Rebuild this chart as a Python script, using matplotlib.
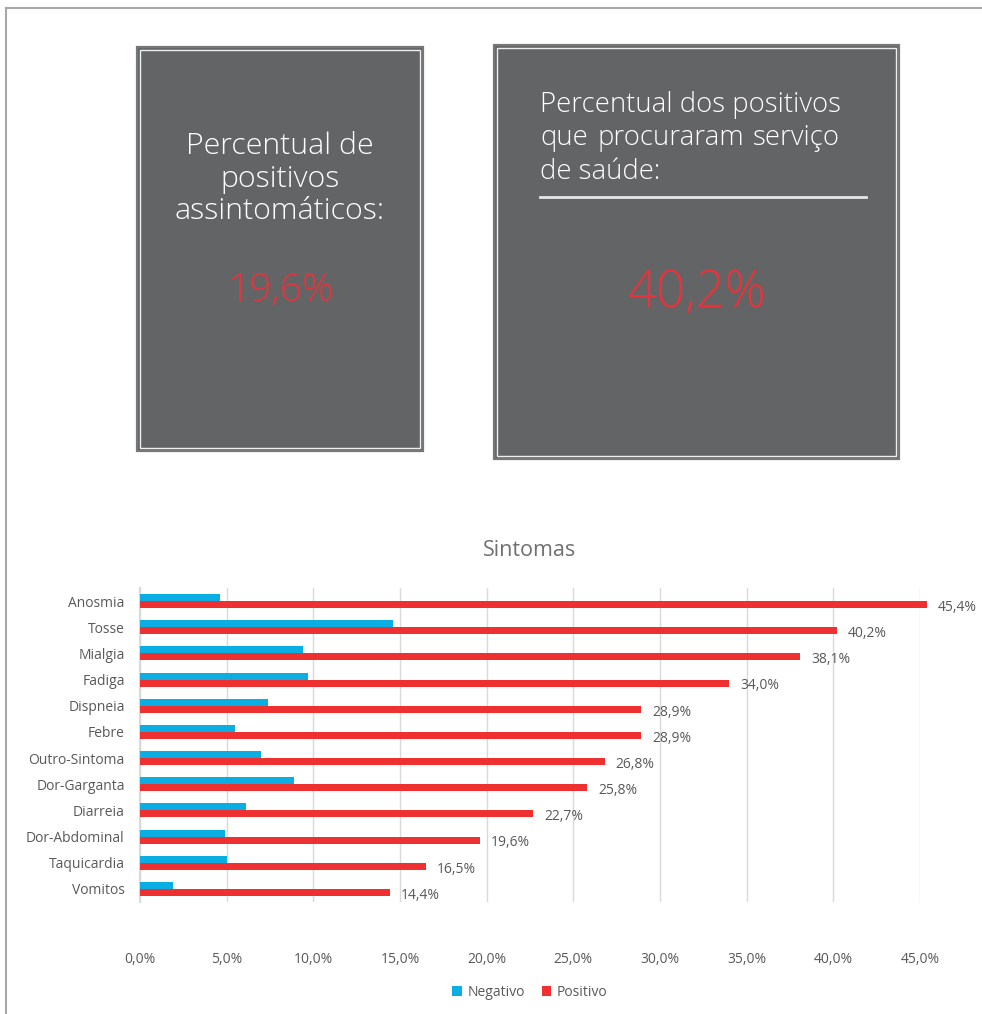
import matplotlib
matplotlib.use("Agg")
import matplotlib.pyplot as plt
from matplotlib.patches import Rectangle
from matplotlib.lines import Line2D
import numpy as np

# data
sintomas = ["Anosmia", "Tosse", "Mialgia", "Fadiga", "Dispneia", "Febre",
            "Outro-Sintoma", "Dor-Garganta", "Diarreia", "Dor-Abdominal",
            "Taquicardia", "Vomitos"]
negativo = [4.6, 14.6, 9.4, 9.7, 7.4, 5.5, 7.0, 8.9, 6.1, 4.9, 5.0, 1.9]
positivo = [45.4, 40.2, 38.1, 34.0, 28.9, 28.9, 26.8, 25.8, 22.7, 19.6, 16.5, 14.4]
xticks = [0, 5, 10, 15, 20, 25, 30, 35, 40, 45]

assint_txt = "19,6%"
servico_txt = "40,2%"

AZUL = "#0AAEE3"
VERM = "#EE3130"
CAIXA = "#636466"
TXT = "#595959"
FONTE = "Open Sans"

W, H = 982, 1014
fig = plt.figure(figsize=(W / 100, H / 100), dpi=100)
fig.patch.set_facecolor("white")

def fx(px):
    return px / W

def fy(py):
    return 1 - py / H

# outer frame
fig.add_artist(Line2D([fx(6), fx(6)], [fy(8), 0], color="#a8a8a8", lw=1.5))
fig.add_artist(Line2D([fx(6), 1], [fy(8), fy(8)], color="#a8a8a8", lw=1.5))

def caixa(x0, y0, x1, y1):
    fig.add_artist(Rectangle((fx(x0), fy(y1)), fx(x1 - x0), (y1 - y0) / H,
                             facecolor=CAIXA, edgecolor="#777777", lw=1.6))
    fig.add_artist(Rectangle((fx(x0 + 3), fy(y1 - 3)), fx(x1 - x0 - 6), (y1 - y0 - 6) / H,
                             facecolor="none", edgecolor="#eeeeee", lw=1.0))

caixa(137, 47, 423, 451)
caixa(494, 45, 899, 459)

# box 1 text
fig.text(fx(280), fy(179), "Percentual de\npositivos\nassintomáticos:", ha="center", va="center",
         color="white", fontsize=21.8, family=FONTE, fontweight="light", linespacing=1.14)
fig.text(fx(280), fy(291), assint_txt, ha="center", va="center", color="#e8333b",
         fontsize=28, family=FONTE, fontweight="light")

# box 2 text (justified paragraph)
kw = dict(color="white", fontsize=19.8, family=FONTE, fontweight="light", va="center")
fig.text(fx(540), fy(105), "Percentual dos positivos", ha="left", **kw)
palavras = ["que", "procuraram", "serviço"]
objs = [fig.text(fx(540), fy(138), p, ha="left", **kw) for p in palavras]
fig.text(fx(540), fy(172), "de saúde:", ha="left", **kw)
r = fig.canvas.get_renderer()
larg = [o.get_window_extent(r).width for o in objs]
gap = (300 - sum(larg)) / (len(larg) - 1)
xpos = 540
for o, w in zip(objs, larg):
    o.set_x(fx(xpos))
    xpos += w + gap

fig.add_artist(Line2D([fx(540), fx(866)], [fy(197), fy(197)], color="#e6e6e6", lw=2))
fig.text(fx(697), fy(293), servico_txt, ha="center", va="center", color="#e8333b",
         fontsize=36.5, family=FONTE, fontweight="light")

# bar chart
ax = fig.add_axes([fx(140), fy(902), fx(920 - 140), (902 - 588) / H])
y = np.arange(len(sintomas))
h = 0.27
ax.barh(y - h / 2, negativo, height=h, color=AZUL, label="Negativo", clip_on=False, zorder=3)
ax.barh(y + h / 2, positivo, height=h, color=VERM, label="Positivo", clip_on=False, zorder=3)
for yi, v in zip(y, positivo):
    ax.annotate(f"{v:.1f}%".replace(".", ","), (v, yi + h / 2), xytext=(8, -2),
                textcoords="offset points", ha="left", va="center",
                fontsize=10, color=TXT, family=FONTE, annotation_clip=False)

ax.set_xlim(0, 45)
ax.set_ylim(len(sintomas) - 0.5, -0.5)
ax.set_yticks(y)
ax.set_yticklabels(sintomas, family=FONTE, fontsize=10, color=TXT)
ax.set_xticks(xticks)
ax.set_xticklabels([f"{t:.1f}%".replace(".", ",") for t in xticks], family=FONTE,
                   fontsize=10, color=TXT)
ax.tick_params(axis="both", length=0)
ax.tick_params(axis="x", pad=36)
ax.tick_params(axis="y", pad=11)
ax.grid(axis="x", color="#d9d9d9", lw=1, zorder=0)
for s in ["top", "right", "bottom"]:
    ax.spines[s].set_visible(False)
ax.spines["left"].set_color("#d9d9d9")
ax.spines["left"].set_linewidth(1.5)

fig.text(fx(530), fy(551), "Sintomas", ha="center", va="center", fontsize=15.5,
         color="#707070", family=FONTE)

leg = fig.legend(loc="center", bbox_to_anchor=(fx(530), fy(992)), ncol=2, frameon=False,
                 prop={"family": FONTE, "size": 10}, handlelength=0.7, handleheight=0.7,
                 handletextpad=0.4, columnspacing=1.2)
for t in leg.get_texts():
    t.set_color(TXT)

fig.savefig("out.png", dpi=100)
